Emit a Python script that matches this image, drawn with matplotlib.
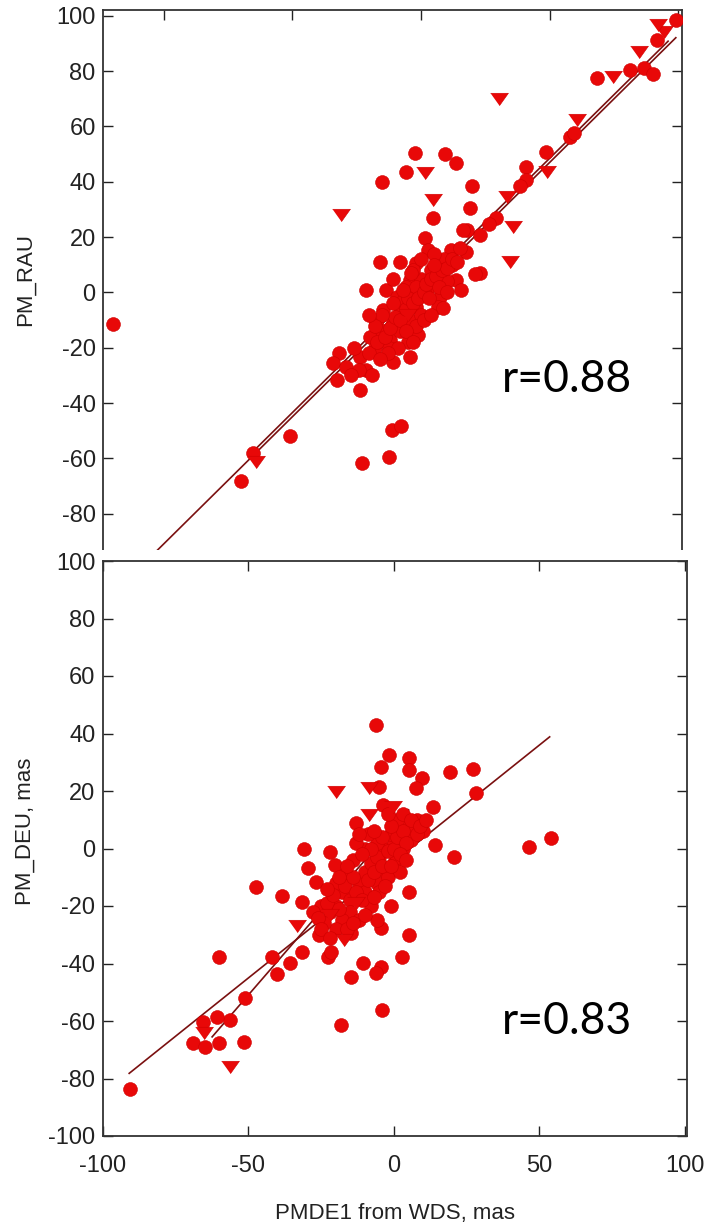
import numpy as np
import matplotlib.pyplot as plt
from matplotlib.patches import Rectangle

# --- data (mas) ---
# upper panel: PM_RAU vs PMDE1 from WDS
rau_circ_x = [99.1, 91.8, 81.2, 86.5, 90.1, 68.2, 57.8, 59.5, 48.4, 40.8, 40.8, 38.5, 29.2, 26.5,
              22.9, 17.9, 22.9, -2.5, 9.5, 13.6, -5.7, -15.1, 19.7, 19.0, 4.7, 1.4, 2.7, 11.8,
              17.6, 16.3, -16.0, -8.3, -1.8, 7.3, 13.7, 20.8, -21.2, -13.4, -4.4, -9.5, -1.8, 7.3,
              6.6, -14.7, -8.3, -1.8, -17.3, -10.9, -4.4, -3.1, -19.9, -12.1, -31.7, -23.8, -10.9,
              -4.4, -34.1, -21.2, -32.6, -29.0, -19.2, -23.7, -1.3, 8.6, 15.7, -119.5, -11.1, -7.9,
              -12.6, -22.8, -50.9, -65.2, -69.9, -14.7, -12.4, -6.0, 0.0, 4.0, 9.0, 12.0, -3.0,
              -11.0, -7.0, -5.0, -8.0, -15.0, -2.0, 3.0, 10.0, 5.0, -18.0, -26.0,
              # dense core
              -20.0, -17.0, -14.0, -12.0, -10.0, -8.0, -6.0, -5.0, -3.0, -1.0, 1.0, 2.0, 4.0,
              6.0, 8.0, 10.0, 12.0, 14.0, 15.0, 3.0, 0.0, -2.0, -6.0, -9.0, -13.0, -16.0, -24.0,
              -27.0, -7.0, -4.0, 0.0, 5.0, 7.0, 10.0, -11.0, -15.0, -18.0, -20.0, -3.0, 1.0, 4.0]
rau_circ_y = [98.4, 91.2, 80.4, 81.0, 79.0, 77.4, 56.3, 57.5, 50.8, 45.4, 40.6, 38.5, 26.8, 24.9,
              20.7, 22.5, 6.9, 50.3, 50.0, 46.9, 43.6, 40.0, 38.4, 30.4, 26.8, 19.5, 15.3, 15.3,
              14.7, 22.5, 11.1, 11.1, 10.5, 9.3, 4.4, 6.6, 0.8, 0.8, 4.4, -1.6, -0.4, -1.6,
              -5.2, -6.4, -7.6, -5.2, -11.2, -11.2, -10.0, -14.8, -16.0, -17.2, -22.0, -23.3, -25.1,
              -23.3, -25.7, -28.1, -31.7, -26.9, -29.9, -35.3, -15.4, -5.8, 0.8, -11.6, -49.8, -48.3,
              -59.4, -61.6, -52.0, -58.2, -68.1, -17.2, -20.2, 2.0, 5.0, 8.0, 12.0, 10.0, 8.0,
              5.0, -3.0, -18.0, -14.0, -14.0, 2.0, 2.0, 4.0, 14.0, -20.0, -20.0,
              -22.0, -18.0, -16.0, -13.0, -9.0, -10.0, -6.0, -2.0, -4.0, -2.0, 0.0, 3.0, 5.0,
              6.0, 8.0, 9.0, 12.0, 11.0, 16.0, -2.0, -8.0, -12.0, -14.0, -20.0, -22.0, -24.0, -28.0,
              -30.0, 1.0, 7.0, 12.0, 10.0, 2.0, 0.0, -4.0, -8.0, -12.0, -8.0, -18.0, -10.0, -8.0]
rau_tri_x = [94.5, 92.0, 84.7, 74.5, 30.4, 60.5, 48.9, 33.6, 35.8, 34.6, 1.4, 4.7, -31.2, -64.0, -5.0]
rau_tri_y = [94.0, 96.5, 87.0, 77.7, 69.9, 62.3, 43.6, 34.6, 23.7, 11.1, 43.2, 33.4, 28.0, -61.2, -8.0]

# lower panel: PM_DEU vs PMDE1 from WDS
deu_circ_x = [-6.1, -1.6, -4.5, 5.1, 5.1, 9.8, 7.4, 19.3, 27.3, 28.1, -5.0, -3.7, 13.5, -13.2,
              53.9, 46.4, 14.1, 20.6, 5.1, 5.1, 2.7, -4.5, -4.5, -6.1, -4.0, -10.5, -14.8, -18.3,
              -14.8, -22.7, -21.5, -25.9, -31.5, -31.5, -26.7, -29.5, -31.0, -22.0, -20.4, -47.4,
              -38.6, -60.1, -41.8, -40.3, -35.8, -51.1, -51.7, -56.5, -60.9, -65.7, -69.2, -64.9,
              -60.1, -90.8, -20.0, -18.0, -15.0, -12.0, -10.0, -8.0, -5.0, -3.0, 0.0, 2.0, 5.0,
              8.0, 10.0, 3.0, 0.0, -3.0, -6.0, -10.0, -15.0, -18.0, -22.0, -25.0, -20.0, -12.0,
              -8.0, -5.0, -2.0, 1.0, 6.0, -1.0, -6.0, -10.0, -14.0, -17.0, -20.0, -16.0, -6.0,
              -13.0, -9.0, 1.0, 3.0, -1.0, 2.0, -24.0, -28.0,
              # dense core
              -26.0, -23.0, -21.0, -19.0, -17.0, -14.0, -13.0, -11.0, -9.0, -7.0, -6.0, -4.0,
              -2.0, 0.0, 1.0, 3.0, 4.0, 6.0, 8.0, 9.0, 11.0, -1.0, -4.0, -8.0, -11.0, -16.0,
              -19.0, -23.0, -25.0, -22.0, -14.0, -10.0, -7.0, -3.0, -1.0, 2.0, 4.0, -12.0, -7.0, -2.0]
deu_circ_y = [43.0, 32.5, 28.5, 31.4, 27.3, 24.4, 20.9, 26.7, 27.5, 19.2, 21.5, 15.1, 14.5, 8.8,
              3.6, 0.4, 1.2, -3.1, -15.0, -30.1, -37.6, -27.8, -41.1, -43.4, -56.2, -39.9, -44.6, -61.4,
              -29.5, -37.6, -36.0, -30.1, -35.9, -18.5, -11.5, -6.9, -0.3, -1.1, -5.7, -13.5,
              -16.4, -37.8, -37.6, -43.7, -39.9, -52.1, -67.2, -59.7, -58.5, -60.2, -67.8, -68.9,
              -67.8, -83.8, -20.0, -15.0, -18.0, -12.0, -8.0, -5.0, -3.0, 0.0, 2.0, 5.0, 8.0,
              10.0, 6.0, 0.0, -5.0, -8.0, -12.0, -15.0, -22.0, -25.0, -22.0, -20.0, -28.0, -25.0,
              -20.0, -15.0, -10.0, -3.0, 3.0, 5.0, 2.0, 0.0, -4.0, -9.0, -12.0, -28.0, -25.0,
              2.0, 5.0, 10.0, 12.0, -20.0, -8.0, -26.0, -22.0,
              -24.0, -19.0, -16.0, -21.0, -13.0, -10.0, -15.0, -18.0, -11.0, -8.0, -3.0, -6.0,
              -1.0, 0.0, 4.0, 6.0, 2.0, 10.0, 5.0, 8.0, 10.0, 8.0, 4.0, 0.0, -2.0, -6.0,
              -10.0, -14.0, -28.0, -31.0, -26.0, -23.0, -17.0, -13.0, -6.0, -2.0, -4.0, 5.0, 6.0, 12.0]
deu_tri_x = [-19.9, -8.5, -0.5, -8.5, -33.4, -17.2, -65.2, -56.2, -22.0, -13.0]
deu_tri_y = [19.5, 20.9, 14.5, 11.7, -27.0, -31.8, -64.3, -75.9, -23.0, -19.0]

# fitted lines: slope, intercept, x range
rau_slope = [0.92, 0.92]
rau_icpt = [1.0, 2.5]
rau_xrng = [(-108, 99), (-64, 96)]
deu_slope = [0.81, 1.17]
deu_icpt = [-4.5, 7.6]
deu_xrng = [(-91, 53.5), (-62.5, 5)]

r_labels = ["r=0.88", "r=0.83"]

plt.rcParams['font.family'] = ['Liberation Sans', 'DejaVu Sans']

W, H = 717, 1228
fig = plt.figure(figsize=(W / 100, H / 100), dpi=100)

def px_box(l, t, r, b):
    return [l / W, 1 - b / H, (r - l) / W, (b - t) / H]

ax1 = fig.add_axes(px_box(103.3, 10, 682, 569))
ax2 = fig.add_axes(px_box(103, 561, 687, 1136))
ax1.set_zorder(0)
ax2.set_zorder(2)

# the lower picture sits on top of the upper one
fig.add_artist(Rectangle((0, 0), 1, 1 - 550 / H, transform=fig.transFigure,
                         facecolor='white', edgecolor='none', zorder=1))

tri = [(-1, 0.7), (1, 0.7), (0, -0.7)]
red = '#e80808'
edge = '#d00000'

for ax, cx, cy, tx, ty, sl, ic, xr in [
        (ax1, rau_circ_x, rau_circ_y, rau_tri_x, rau_tri_y, rau_slope, rau_icpt, rau_xrng),
        (ax2, deu_circ_x, deu_circ_y, deu_tri_x, deu_tri_y, deu_slope, deu_icpt, deu_xrng)]:
    for s, b, (x0, x1) in zip(sl, ic, xr):
        xx = np.array([x0, x1])
        ax.plot(xx, s * xx + b, color='#7a1010', lw=1.2, zorder=2)
    ax.scatter(cx, cy, s=100, marker='o', color=red, edgecolors=edge, linewidths=0.4, zorder=3)
    ax.scatter(tx, ty, s=165, marker=tri, color=red, edgecolors=edge, linewidths=0.4, zorder=3)

    ax.set_yticks(np.arange(-100, 101, 20))
    ax.set_xticks(np.arange(-100, 101, 50))
    ax.tick_params(direction='in', length=7.5, width=1, top=True, right=True,
                   labelsize=17, colors='#222222')
    ax.tick_params(axis='y', pad=5.5)
    ax.tick_params(axis='x', pad=14)
    for sp in ax.spines.values():
        sp.set_linewidth(1.3)
        sp.set_color('#333333')

ax1.set_xlim(-123.4, 101.4)
ax1.set_ylim(-100, 102.1)
ax1.tick_params(axis='x', labelbottom=False)
# lowest label of the upper panel is hidden behind the lower panel
ax1.set_yticklabels([''] + [str(v) for v in range(-80, 101, 20)])

ax2.set_xlim(-100, 100.7)
ax2.set_ylim(-100, 100)
ax2.set_xticklabels(['-100', '-50', '0', '50', '100'])
ax2.set_yticklabels([str(v) for v in range(-100, 101, 20)])

fig.text(567 / W, 1 - 379 / H, r_labels[0], fontsize=32, family=['Lato', 'DejaVu Sans'],
         ha='center', va='center', zorder=5)
fig.text(567 / W, 1 - 1021 / H, r_labels[1], fontsize=32, family=['Lato', 'DejaVu Sans'],
         ha='center', va='center', zorder=5)

fig.text(25 / W, 1 - 279 / H, 'PM_RAU', rotation=90, fontsize=16, color='#222222',
         ha='center', va='center')
fig.text(25 / W, 1 - 831 / H, 'PM_DEU, mas', rotation=90, fontsize=16, color='#222222',
         ha='center', va='center', zorder=5)
fig.text(395 / W, 1 - 1213 / H, 'PMDE1 from WDS, mas', fontsize=16, color='#222222',
         ha='center', va='center', zorder=5)

plt.savefig("out.png", dpi=100)
